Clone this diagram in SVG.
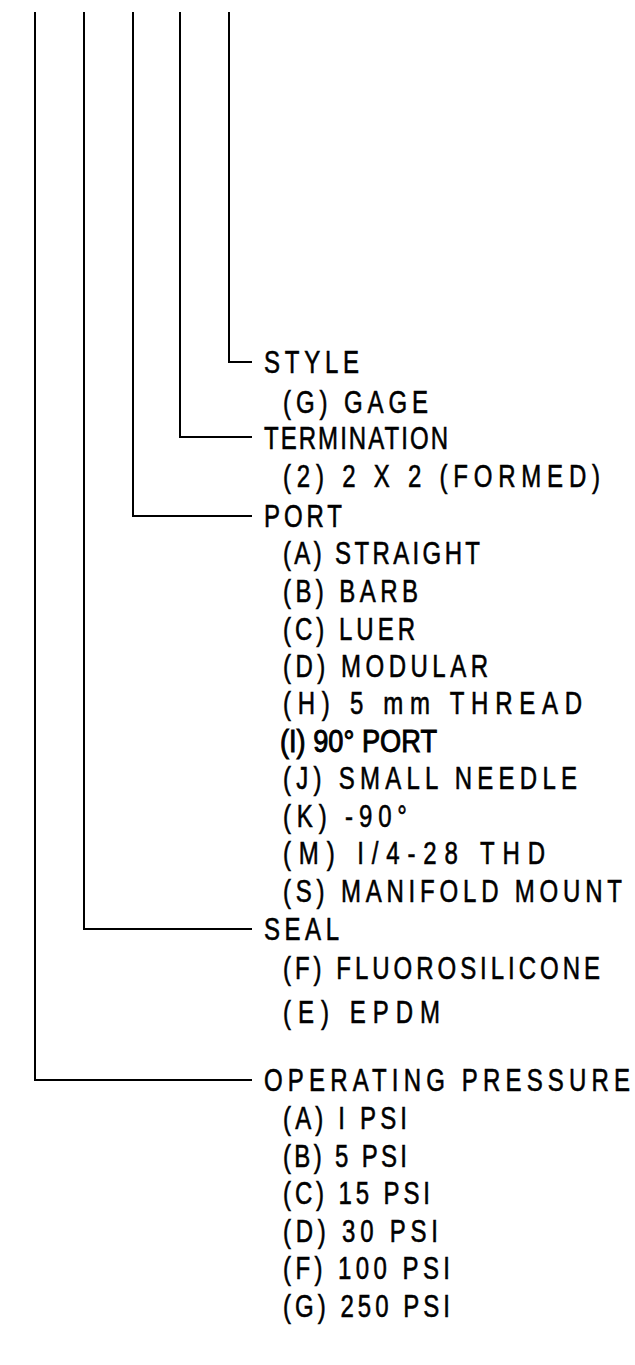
<svg xmlns="http://www.w3.org/2000/svg" width="635" height="1365" viewBox="0 0 635 1365">
<style>
.c{fill:none;stroke:#000;stroke-width:2}
text{font-family:"Liberation Sans",Arial,sans-serif;font-size:32px;fill:#000;stroke:#000;stroke-width:0.6}
text.n{stroke-width:1;letter-spacing:0}
</style>
<rect width="635" height="1365" fill="#fff"/>
<g id="connectors">
<path class="c" d="M229 12V362H252"/>
<path class="c" d="M180 12V437H252"/>
<path class="c" d="M133 12V516H252"/>
<path class="c" d="M84 12V929H252"/>
<path class="c" d="M35 12V1080H252"/>
</g>
<g transform="scale(0.75,1)">
<g id="style">
<text x="352" y="373" textLength="126.7" lengthAdjust="spacing">STYLE</text>
<text x="377.33" y="413" textLength="193.3" lengthAdjust="spacing">(G) GAGE</text>
</g>
<g id="termination">
<text x="352" y="449" textLength="245.3" lengthAdjust="spacing">TERMINATION</text>
<text x="377.33" y="487" textLength="422.7" lengthAdjust="spacing">(2) 2 X 2 (FORMED)</text>
</g>
<g id="port">
<text x="352" y="527" textLength="104" lengthAdjust="spacing">PORT</text>
<text x="377.33" y="564" textLength="262.7" lengthAdjust="spacing">(A) STRAIGHT</text>
<text x="377.33" y="602" textLength="180" lengthAdjust="spacing">(B) BARB</text>
<text x="377.33" y="640" textLength="176" lengthAdjust="spacing">(C) LUER</text>
<text x="377.33" y="677" textLength="273.3" lengthAdjust="spacing">(D) MODULAR</text>
<text x="377.33" y="714" textLength="398.7" lengthAdjust="spacing">(H) 5 mm THREAD</text>
<text x="377.33" y="789" textLength="392" lengthAdjust="spacing">(J) SMALL NEEDLE</text>
<text x="377.33" y="827" textLength="165.3" lengthAdjust="spacing">(K) -90°</text>
<text x="377.33" y="864" textLength="349.3" lengthAdjust="spacing">(M) I/4-28 THD</text>
<text x="377.33" y="902" textLength="452" lengthAdjust="spacing">(S) MANIFOLD MOUNT</text>
</g>
<g id="seal">
<text x="352" y="940" textLength="100" lengthAdjust="spacing">SEAL</text>
<text x="377.33" y="979" textLength="422.7" lengthAdjust="spacing">(F) FLUOROSILICONE</text>
<text x="377.33" y="1023" textLength="209.3" lengthAdjust="spacing">(E) EPDM</text>
</g>
<g id="pressure">
<text x="352" y="1091" textLength="488" lengthAdjust="spacing">OPERATING PRESSURE</text>
<text x="377.33" y="1129" textLength="165.3" lengthAdjust="spacing">(A) I PSI</text>
<text x="377.33" y="1167" textLength="165.3" lengthAdjust="spacing">(B) 5 PSI</text>
<text x="377.33" y="1204" textLength="196" lengthAdjust="spacing">(C) 15 PSI</text>
<text x="377.33" y="1242" textLength="206.7" lengthAdjust="spacing">(D) 30 PSI</text>
<text x="377.33" y="1279" textLength="222.7" lengthAdjust="spacing">(F) 100 PSI</text>
<text x="377.33" y="1317" textLength="222.7" lengthAdjust="spacing">(G) 250 PSI</text>
</g>
</g>
<g id="port-90">
<text class="n" x="280" y="752" textLength="157" lengthAdjust="spacingAndGlyphs">(I) 90° PORT</text>
</g>
</svg>
